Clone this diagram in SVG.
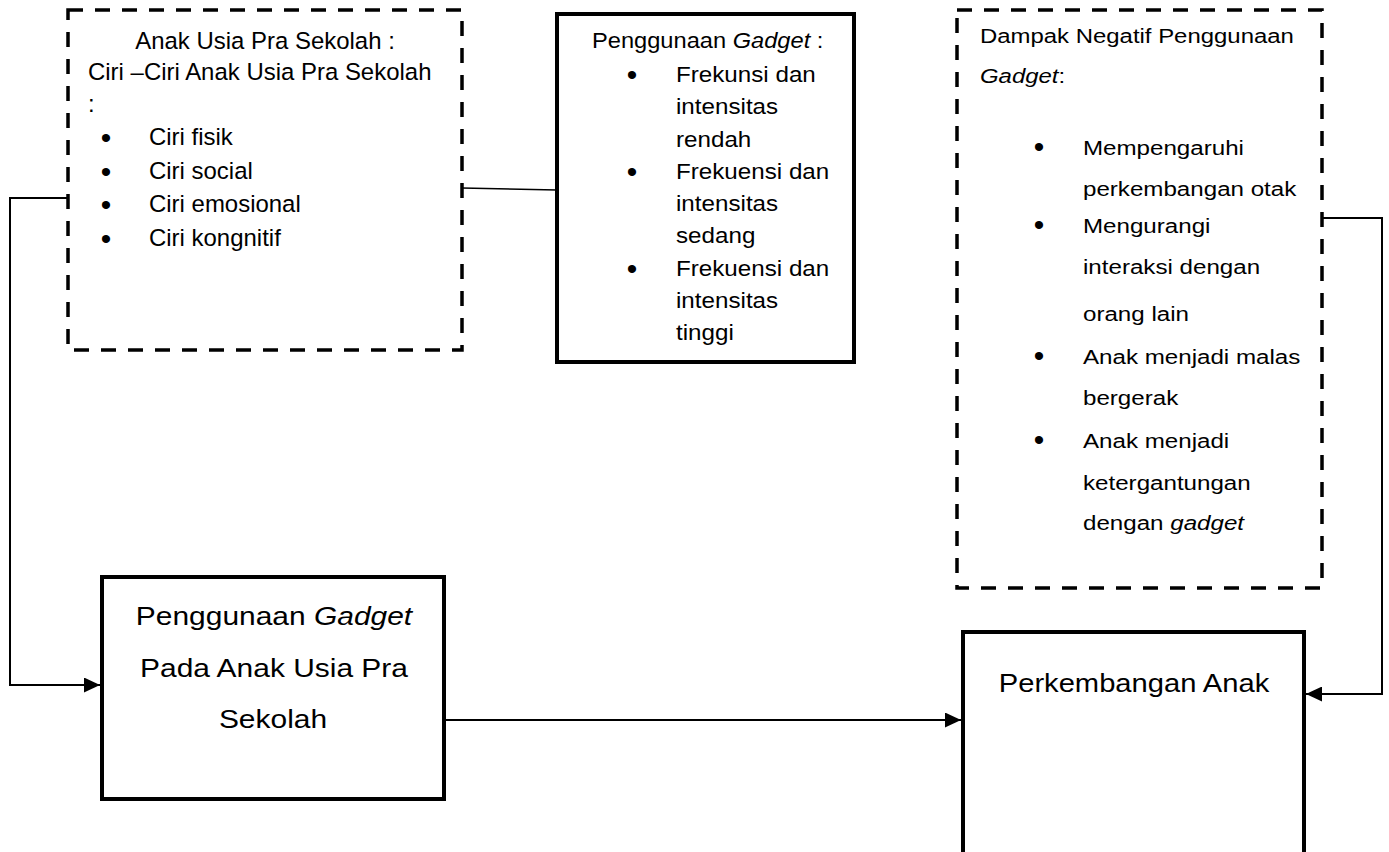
<svg xmlns="http://www.w3.org/2000/svg" width="1389" height="852" viewBox="0 0 1389 852">
<style>
  text { font-family: "Liberation Sans", Arial, sans-serif; fill: #000; }
  .s1 { font-size: 23.5px; }
  .s2 { font-size: 21.5px; }
  .s3 { font-size: 21px; }
  .big { font-size: 26.5px; }
  .b { font-size: 30px; text-anchor: middle; }
  .c { text-anchor: middle; }
  .it { font-style: italic; }
  .dash { fill: #fff; stroke: #000; stroke-width: 3.5; stroke-dasharray: 15 12; }
  .solid { fill: #fff; stroke: #000; stroke-width: 4; }
  .conn { fill: none; stroke: #000; stroke-width: 1.6; }
  .arr { fill: none; stroke: #000; stroke-width: 2; marker-end: url(#ah); }
</style>
<defs>
  <marker id="ah" markerUnits="userSpaceOnUse" markerWidth="16" markerHeight="15" refX="16" refY="7.5" orient="auto">
    <path d="M0,0 L16,7.5 L0,15 z" fill="#000"/>
  </marker>
</defs>
<rect width="1389" height="852" fill="#fff"/>

<g id="connectors">
  <line class="conn" x1="462" y1="188" x2="557" y2="190"/>
  <polyline class="arr" points="68,198 10,198 10,685 100,685"/>
  <line class="arr" x1="444" y1="720" x2="961" y2="720"/>
  <polyline class="arr" points="1322,218 1382,218 1382,694 1306,694"/>
</g>

<g id="node-ciri">
  <rect class="dash" x="68" y="10" width="394" height="340"/>
  <text class="s1 c" transform="translate(265 49) scale(1.02 1)">Anak Usia Pra Sekolah :</text>
  <text class="s1" transform="translate(88 80) scale(1.02 1)">Ciri –Ciri Anak Usia Pra Sekolah</text>
  <text class="s1" transform="translate(88 112) scale(1.02 1)">:</text>
  <text class="b" x="106" y="148">•</text>
  <text class="s1" transform="translate(149 145) scale(1.02 1)">Ciri fisik</text>
  <text class="b" x="106" y="182">•</text>
  <text class="s1" transform="translate(149 179) scale(1.02 1)">Ciri social</text>
  <text class="b" x="106" y="215">•</text>
  <text class="s1" transform="translate(149 212) scale(1.02 1)">Ciri emosional</text>
  <text class="b" x="106" y="249">•</text>
  <text class="s1" transform="translate(149 246) scale(1.02 1)">Ciri kongnitif</text>
</g>

<g id="node-penggunaan">
  <rect class="solid" x="557" y="14" width="297" height="348"/>
  <text class="s2" transform="translate(592 48) scale(1.10 1)">Penggunaan <tspan class="it">Gadget</tspan> :</text>
  <text class="b" x="632" y="85">•</text>
  <text class="s2" transform="translate(676 82) scale(1.125 1)">Frekunsi dan</text>
  <text class="s2" transform="translate(676 114) scale(1.125 1)">intensitas</text>
  <text class="s2" transform="translate(676 147) scale(1.125 1)">rendah</text>
  <text class="b" x="632" y="182">•</text>
  <text class="s2" transform="translate(676 179) scale(1.125 1)">Frekuensi dan</text>
  <text class="s2" transform="translate(676 211) scale(1.125 1)">intensitas</text>
  <text class="s2" transform="translate(676 243) scale(1.125 1)">sedang</text>
  <text class="b" x="632" y="279">•</text>
  <text class="s2" transform="translate(676 276) scale(1.125 1)">Frekuensi dan</text>
  <text class="s2" transform="translate(676 308) scale(1.125 1)">intensitas</text>
  <text class="s2" transform="translate(676 340) scale(1.125 1)">tinggi</text>
</g>

<g id="node-dampak">
  <rect class="dash" x="957" y="10" width="365" height="578"/>
  <text class="s3" transform="translate(980 43) scale(1.14 1)">Dampak Negatif Penggunaan</text>
  <text class="s3" transform="translate(980 83) scale(1.14 1)"><tspan class="it">Gadget</tspan>:</text>
  <text class="b" x="1039" y="157">•</text>
  <text class="s3" transform="translate(1083 155) scale(1.15 1)">Mempengaruhi</text>
  <text class="s3" transform="translate(1083 196) scale(1.15 1)">perkembangan otak</text>
  <text class="b" x="1039" y="235">•</text>
  <text class="s3" transform="translate(1083 233) scale(1.15 1)">Mengurangi</text>
  <text class="s3" transform="translate(1083 274) scale(1.15 1)">interaksi dengan</text>
  <text class="s3" transform="translate(1083 321) scale(1.15 1)">orang lain</text>
  <text class="b" x="1039" y="366">•</text>
  <text class="s3" transform="translate(1083 364) scale(1.15 1)">Anak menjadi malas</text>
  <text class="s3" transform="translate(1083 405) scale(1.15 1)">bergerak</text>
  <text class="b" x="1039" y="450">•</text>
  <text class="s3" transform="translate(1083 448) scale(1.15 1)">Anak menjadi</text>
  <text class="s3" transform="translate(1083 490) scale(1.15 1)">ketergantungan</text>
  <text class="s3" transform="translate(1083 530) scale(1.15 1)">dengan <tspan class="it">gadget</tspan></text>
</g>

<g id="node-gadget-anak">
  <rect class="solid" x="102" y="577" width="342" height="222"/>
  <text class="big c" transform="translate(274 625) scale(1.13 1)">Penggunaan <tspan class="it">Gadget</tspan></text>
  <text class="big c" transform="translate(274 677) scale(1.13 1)">Pada Anak Usia Pra</text>
  <text class="big c" transform="translate(273 728) scale(1.13 1)">Sekolah</text>
</g>

<g id="node-perkembangan">
  <rect class="solid" x="963" y="632" width="341" height="240"/>
  <text class="big c" transform="translate(1134 692) scale(1.10 1)">Perkembangan Anak</text>
</g>
</svg>
